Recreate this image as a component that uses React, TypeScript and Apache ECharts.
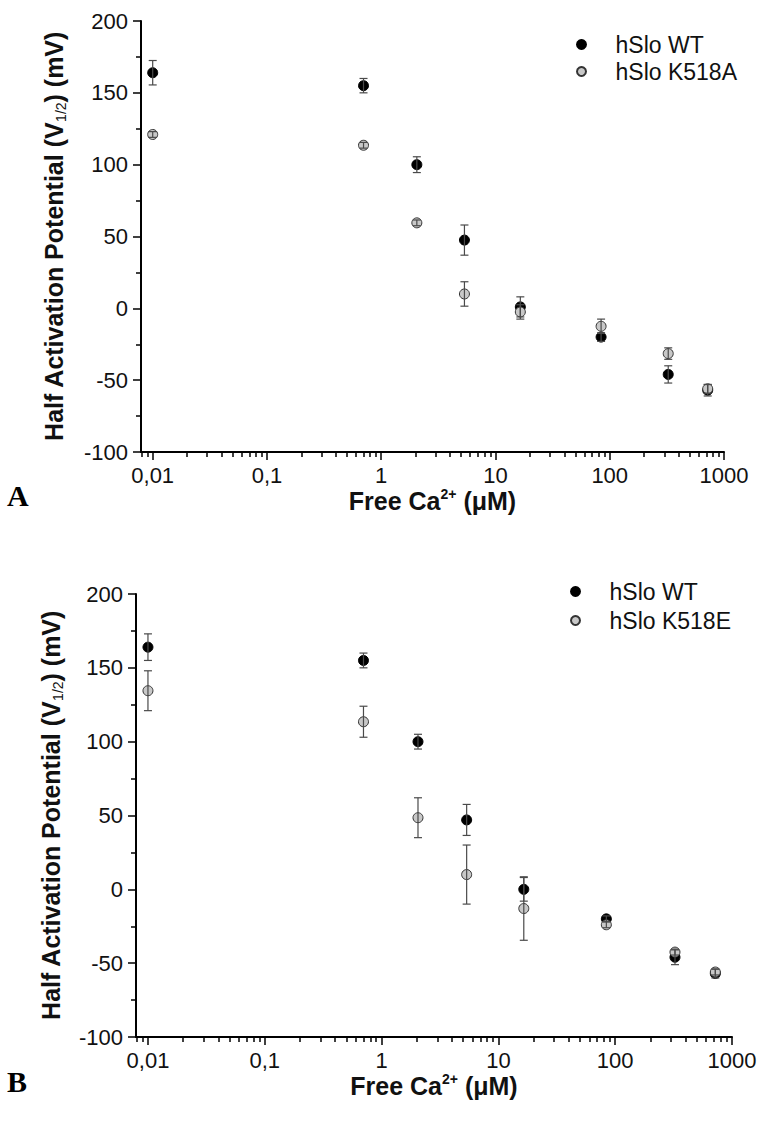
import React, { useEffect, useRef } from "react";
import * as echarts from "echarts";

// Free Ca2+ concentrations (µM)
const CA = [0.01, 0.7, 2.05, 5.35, 16.5, 84, 325, 720];

// Panel A
const WT_A = [164, 155, 100, 47.5, 1, -20, -46, -57];
const WT_A_ERR = [8.5, 5, 5.5, 10.5, 7, 3, 6, 4];
const K518A = [121, 113.5, 59.5, 10, -2.5, -12.5, -31.5, -56];
const K518A_ERR = [2, 2, 2, 8.5, 5, 5, 4, 3];

// Panel B
const WT_B = [164, 155, 100, 47, 0, -20, -46, -57];
const WT_B_ERR = [9, 5, 5, 10.5, 8, 2, 5, 3];
const K518E = [134.5, 113.5, 48.5, 10, -13, -24, -42.5, -56];
const K518E_ERR = [13.5, 10.5, 13.5, 20, 21.5, 2, 2, 2];

const X_TICKS = [0.01, 0.1, 1, 10, 100, 1000];
const X_LABELS = ["0,01", "0,1", "1", "10", "100", "1000"];
const X_MIN = 0.0079;
const X_MAX = 1000;
const Y_MIN = -100;
const Y_MAX = 200;
const Y_STEP = 50;

const FONT = "Arial, 'Liberation Sans', Helvetica, sans-serif";

function minorTicks(): number[] {
  const out: number[] = [];
  for (let k = -3; k <= 2; k++) {
    for (let m = 2; m <= 9; m++) {
      const v = Number((m * Math.pow(10, k)).toPrecision(6));
      if (v >= 0.008 && v < 1000) out.push(v);
    }
  }
  return out;
}

function errData(vals: number[], errs: number[]) {
  return CA.map((x, i) => [x, vals[i] - errs[i], vals[i] + errs[i]]);
}

function pts(vals: number[]) {
  return CA.map((x, i) => [x, vals[i]]);
}

const renderErr = (params: any, api: any) => {
  const x = api.value(0);
  const lo = api.value(1);
  const hi = api.value(2);
  const p1 = api.coord([x, lo]);
  const p2 = api.coord([x, hi]);
  const w = 4;
  const style = { stroke: "#4a4a4a", lineWidth: 1.2 };
  return {
    type: "group",
    children: [
      { type: "line", shape: { x1: p1[0], y1: p1[1], x2: p2[0], y2: p2[1] }, style },
      { type: "line", shape: { x1: p1[0] - w, y1: p1[1], x2: p1[0] + w, y2: p1[1] }, style },
      { type: "line", shape: { x1: p2[0] - w, y1: p2[1], x2: p2[0] + w, y2: p2[1] }, style },
    ],
  };
};

export default function App() {
  const ref = useRef<HTMLDivElement>(null);

  useEffect(() => {
    document.body.style.margin = "0";
    const chart = echarts.init(ref.current!, null, { renderer: "svg" });
    const minor = minorTicks();

    const xMain = (gridIndex: number) => ({
      type: "log",
      logBase: 10,
      gridIndex,
      position: "bottom",
      min: X_MIN,
      max: X_MAX,
      axisLine: { show: true, onZero: false, lineStyle: { color: "#000", width: 2 } },
      axisTick: { show: true, customValues: X_TICKS, length: 8, lineStyle: { color: "#000", width: 1.5 } },
      axisLabel: {
        customValues: X_TICKS,
        margin: 12,
        fontSize: 22,
        fontFamily: FONT,
        color: "#111",
        formatter: (v: number) => {
          const idx = X_TICKS.findIndex((t) => Math.abs(Math.log10(t) - Math.log10(v)) < 1e-6);
          return idx >= 0 ? X_LABELS[idx] : "";
        },
      },
      splitLine: { show: false },
      name: "Free Ca{sup|2+} (μM)",
      nameLocation: "middle",
      nameGap: 22,
      nameTextStyle: {
        fontSize: 25,
        fontWeight: "bold",
        fontFamily: FONT,
        color: "#111",
        lineHeight: 28,
        rich: {
          sup: { fontSize: 14, fontWeight: "bold", fontFamily: FONT, color: "#111", lineHeight: 14, verticalAlign: "top" },
        },
      },
    });

    const xMinor = (gridIndex: number) => ({
      type: "log",
      logBase: 10,
      gridIndex,
      position: "bottom",
      min: X_MIN,
      max: X_MAX,
      axisLine: { show: false, onZero: false },
      axisTick: { show: true, customValues: minor, length: 5, lineStyle: { color: "#000", width: 1.5 } },
      axisLabel: { show: false },
      splitLine: { show: false },
    });

    const yAxis = (gridIndex: number, gap: number) => ({
      type: "value",
      gridIndex,
      min: Y_MIN,
      max: Y_MAX,
      interval: Y_STEP,
      axisLine: { show: true, onZero: false, lineStyle: { color: "#000", width: 2 } },
      axisTick: { show: true, length: 8, lineStyle: { color: "#000", width: 1.5 } },
      minorTick: { show: true, splitNumber: 2, length: 5, lineStyle: { color: "#000", width: 1.5 } },
      splitLine: { show: false },
      minorSplitLine: { show: false },
      axisLabel: { margin: 13, fontSize: 22, fontFamily: FONT, color: "#111" },
      name: "Half Activation Potential (V{sub|1/2}) (mV)",
      nameLocation: "middle",
      nameRotate: 90,
      nameGap: gap,
      nameTextStyle: {
        fontSize: 25,
        fontWeight: "bold",
        fontFamily: FONT,
        color: "#111",
        lineHeight: 28,
        rich: {
          sub: { fontSize: 14, fontWeight: "normal", fontFamily: FONT, color: "#111", lineHeight: 14, verticalAlign: "bottom" },
        },
      },
    });

    const wtStyle = { color: "#000", borderColor: "#000", borderWidth: 1, opacity: 1 };
    const mutStyle = { color: "#c8c8c8", borderColor: "#333", borderWidth: 1, opacity: 1 };

    const scatter = (name: string, vals: number[], xi: number, yi: number, style: any, z: number) => ({
      type: "scatter",
      name,
      xAxisIndex: xi,
      yAxisIndex: yi,
      data: pts(vals),
      symbol: "circle",
      symbolSize: 10,
      itemStyle: style,
      z,
    });

    const errs = (name: string, vals: number[], e: number[], xi: number, yi: number, z: number) => ({
      type: "custom",
      name,
      xAxisIndex: xi,
      yAxisIndex: yi,
      data: errData(vals, e),
      encode: { x: 0, y: [1, 2] },
      renderItem: renderErr,
      clip: false,
      z,
    });

    const legendBase = {
      orient: "vertical",
      icon: "circle",
      itemWidth: 58,
      itemHeight: 9,
      selectedMode: false,
      textStyle: { fontSize: 23, fontFamily: FONT, color: "#111" },
    };

    chart.setOption({
      animation: false,
      backgroundColor: "#fff",
      grid: [
        { left: 141, top: 21, width: 583, height: 431 },
        { left: 136, top: 594, width: 596, height: 443 },
      ],
      xAxis: [xMain(0), xMinor(0), xMain(1), xMinor(1)],
      yAxis: [yAxis(0, 73), yAxis(1, 71)],
      legend: [
        { ...legendBase, data: ["hSlo WT", "hSlo K518A"], left: 571, top: 28, itemGap: 4 },
        { ...legendBase, data: ["hSlo WT", "hSlo K518E"], left: 565, top: 575, itemGap: 6 },
      ],
      graphic: [
        { type: "text", left: 7, top: 480, style: { text: "A", fontSize: 30, fontWeight: "bold", fontFamily: "'Liberation Serif', 'Times New Roman', serif", fill: "#000" } },
        { type: "text", left: 7, top: 1066, style: { text: "B", fontSize: 30, fontWeight: "bold", fontFamily: "'Liberation Serif', 'Times New Roman', serif", fill: "#000" } },
      ],
      series: [
        scatter("hSlo WT", WT_A, 0, 0, wtStyle, 2),
        scatter("hSlo K518A", K518A, 0, 0, mutStyle, 3),
        errs("errWT_A", WT_A, WT_A_ERR, 0, 0, 4),
        errs("errK518A", K518A, K518A_ERR, 0, 0, 4),
        scatter("hSlo WT", WT_B, 2, 1, wtStyle, 2),
        scatter("hSlo K518E", K518E, 2, 1, mutStyle, 3),
        errs("errWT_B", WT_B, WT_B_ERR, 2, 1, 4),
        errs("errK518E", K518E, K518E_ERR, 2, 1, 4),
      ],
    });

    return () => chart.dispose();
  }, []);

  return <div ref={ref} style={{ width: 763, height: 1121 }} />;
}
